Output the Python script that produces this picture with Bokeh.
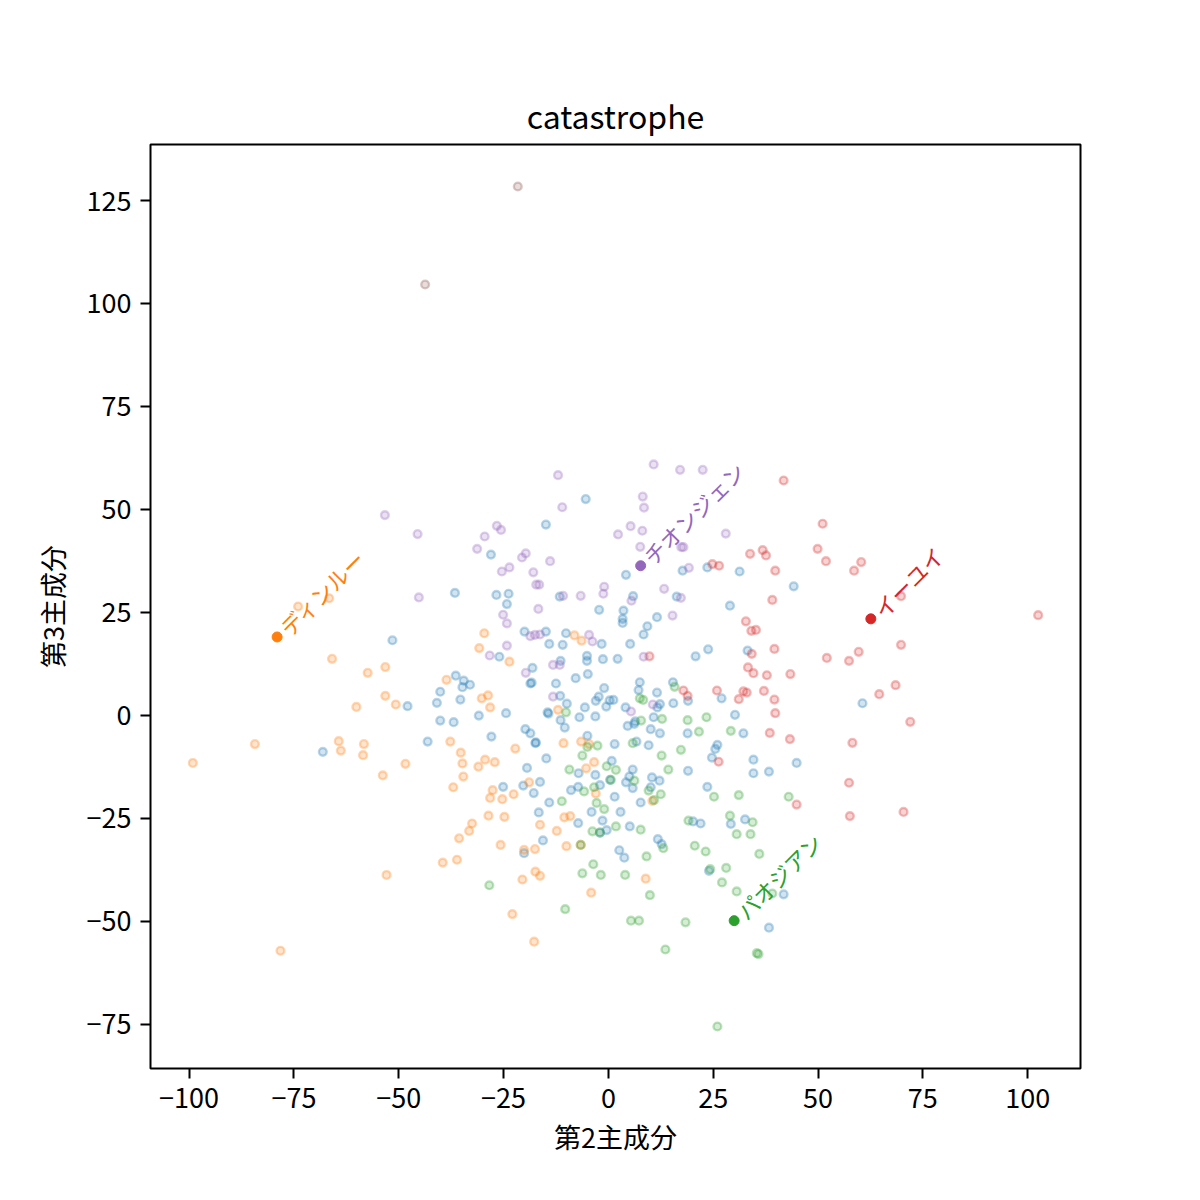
import math
from bokeh.plotting import figure
from bokeh.models import Range1d, FixedTicker
from bokeh.core.properties import value
from bokeh.embed import file_html
from bokeh.resources import INLINE

FONT = "Noto Sans CJK JP"

title_text = "catastrophe"
x_label = "第2主成分"
y_label = "第3主成分"
x_ticks = [-100, -75, -50, -25, 0, 25, 50, 75, 100]
y_ticks = [-75, -50, -25, 0, 25, 50, 75, 100, 125]

blue_pts = [
    (-36.6, 29.7), (-51.5, 18.2), (-36.4, 9.6), (-34.5, 8.4), (-33.0, 7.4), (-34.8, 6.8),
    (-40.1, 5.7), (-40.9, 3.0), (-35.3, 3.8), (-47.9, 2.2), (-30.9, -0.1), (-24.4, 0.5),
    (-40.1, -1.3), (-36.9, -1.7), (-27.9, -5.2), (-43.1, -6.4), (-19.8, -3.4), (-18.6, -4.4),
    (-17.3, -6.6), (-14.5, 0.7), (-18.1, 11.5), (-18.6, 7.7), (-18.3, 7.9), (-68.1, -8.9),
    (-5.4, 52.5), (-14.9, 46.3), (-28.0, 39.0), (4.2, 34.1), (17.7, 35.1), (23.6, 35.9),
    (31.3, 34.9), (-26.7, 29.2), (-23.8, 29.5), (-24.2, 27.0), (-11.6, 28.8), (5.9, 28.9),
    (16.3, 28.8), (29.0, 26.6), (-2.2, 25.6), (3.6, 25.4), (3.4, 23.4), (3.4, 22.4),
    (11.6, 23.8), (9.3, 21.6), (8.4, 19.6), (5.2, 17.3), (33.2, 15.7), (23.8, 16.0),
    (20.8, 14.3), (-26.0, 14.2), (-20.0, 20.3), (-14.9, 20.3), (-14.1, 17.3), (-10.9, 17.1),
    (-10.1, 19.9), (-1.6, 17.3), (-5.1, 14.4), (-5.1, 13.2), (-1.3, 13.6), (2.2, 13.7),
    (-11.4, 13.2), (-12.5, 7.7), (-7.8, 9.0), (-4.9, 10.0), (-11.5, 4.7), (-9.9, 2.8),
    (-14.3, 0.4), (-11.4, -1.2), (-10.4, -3.0), (-6.9, -0.5), (-5.6, 1.9), (-3.1, -0.3),
    (-3.0, 3.5), (-2.3, 4.5), (-1.0, 6.6), (0.3, 3.6), (1.2, 3.7), (-0.5, 2.1),
    (4.1, 1.9), (7.5, 8.0), (7.2, 6.1), (11.6, 5.5), (11.7, 1.9), (12.3, 2.7),
    (15.4, 8.0), (19.0, 3.5), (15.5, 2.9), (27.0, 4.1), (30.2, 0.1), (32.2, -4.4),
    (18.9, -4.4), (12.3, -4.4), (10.1, -3.4), (10.8, -0.5), (6.4, -1.5), (6.2, -2.1),
    (4.6, -2.6), (-5.0, -5.0), (60.6, 2.9), (44.2, 31.3),
    (-17.4, -6.8), (1.5, -7.0), (6.7, -6.4), (9.6, -7.3), (26.0, -7.2), (25.5, -8.2),
    (24.7, -10.3), (34.6, -10.8), (34.6, -14.1), (38.3, -13.7), (-19.4, -12.8), (-14.8, -10.5),
    (-7.1, -14.1), (-3.1, -14.5), (0.8, -11.1), (0.4, -15.7), (5.8, -13.2), (5.0, -14.9),
    (4.2, -16.3), (5.8, -17.7), (10.4, -15.1), (12.2, -15.9), (10.1, -17.5), (7.7, -21.2),
    (19.0, -13.5), (-25.1, -17.4), (-20.3, -17.1), (-16.3, -16.2), (-17.8, -18.9), (-14.1, -21.2),
    (-16.6, -23.6), (-8.9, -18.2), (-7.2, -17.4), (-2.0, -17.0), (1.5, -19.8), (-4.0, -23.5),
    (2.9, -23.5), (-7.2, -26.2), (-15.6, -30.4), (-20.1, -33.5), (-2.0, -28.5), (-0.4, -27.9),
    (-1.4, -25.6), (5.1, -27.0), (11.8, -30.1), (12.7, -31.3), (2.6, -32.8), (3.8, -34.6),
    (20.2, -25.8), (22.0, -26.3), (24.0, -37.8), (23.6, -17.4), (29.2, -26.4), (32.6, -25.3),
    (38.3, -51.6), (44.9, -11.6), (41.8, -43.5),
]

orange_pts = [
    (-74.0, 26.4), (-66.6, 28.4), (-65.9, 13.7), (-57.4, 10.3), (-53.2, 11.7), (-38.6, 8.6),
    (-53.2, 4.7), (-50.7, 2.6), (-60.1, 2.0), (-64.3, -6.3), (-84.3, -7.0), (-37.7, -6.4),
    (-58.3, -7.0), (-63.8, -8.6), (-58.5, -9.7), (-99.1, -11.6), (-35.2, -9.1), (-48.4, -11.8),
    (-34.8, -11.7), (-53.8, -14.6), (-37.0, -17.5), (-34.6, -14.9), (-35.6, -29.9), (-39.5, -35.8),
    (-36.1, -35.1), (-52.9, -38.8), (-78.2, -57.2),
    (-29.6, 19.9), (-30.8, 16.3), (-23.6, 13.0), (-8.1, 19.4), (-6.4, 18.1), (-30.2, 4.1),
    (-28.7, 4.8), (-28.2, 1.9), (-12.0, 1.3),
    (-22.2, -8.1), (-10.7, -6.8), (-6.5, -6.4), (-4.6, -7.0), (-31.0, -12.5), (-29.4, -10.8),
    (-27.1, -11.4), (-5.3, -12.9), (-3.4, -11.4), (-27.6, -18.2), (-28.2, -20.1), (-25.3, -20.4),
    (-22.6, -19.2), (-18.9, -16.3), (-3.0, -19.0), (10.5, -20.8), (-28.6, -24.4), (-24.8, -24.7),
    (-32.5, -26.3), (-33.2, -28.1), (-16.3, -26.6), (-12.3, -28.1), (-10.5, -24.8), (-9.1, -24.5),
    (-25.7, -31.5), (-20.1, -32.7), (-17.5, -32.5), (-10.0, -31.8), (-6.6, -31.5), (-17.4, -38.0),
    (-16.3, -39.0), (-20.5, -39.9), (8.9, -39.7), (-4.1, -43.1), (-22.9, -48.3), (-17.7, -55.0),
]

green_pts = [
    (-10.1, 0.7), (7.5, 4.1), (8.3, 3.7), (15.8, 6.9), (18.9, -1.2), (23.4, -0.5),
    (21.6, -4.0), (29.2, -3.8), (12.8, -0.9), (7.8, -1.3),
    (-5.0, -7.7), (-2.6, -7.4), (5.8, -6.8), (17.3, -8.4), (12.7, -9.8), (-6.2, -9.8),
    (-9.3, -13.2), (-0.4, -12.4), (1.8, -13.3), (0.6, -15.7), (6.2, -15.9), (9.6, -18.3),
    (12.5, -19.2), (10.9, -20.6), (14.3, -13.2), (-11.1, -20.9), (-5.8, -18.5), (-3.4, -17.5),
    (-2.8, -21.3), (-1.0, -22.8), (-6.6, -31.5), (-3.8, -28.2), (-2.0, -28.5), (1.8, -27.0),
    (7.7, -27.8), (13.1, -32.3), (9.1, -34.3), (-28.4, -41.3), (-3.6, -36.2), (-6.2, -38.4),
    (-1.8, -38.8), (4.0, -38.8), (9.9, -43.7), (-10.3, -47.1), (5.4, -49.9), (7.3, -49.9),
    (13.6, -56.9), (18.4, -50.3), (35.4, -57.8), (35.8, -58.0), (26.0, -75.6), (19.1, -25.6),
    (20.6, -31.7), (23.2, -33.1), (24.3, -37.4), (28.1, -37.1), (27.1, -40.6), (30.6, -42.8),
    (25.2, -19.8), (31.1, -19.4), (29.0, -24.4), (34.4, -26.0), (30.6, -28.9), (33.9, -28.9),
    (36.0, -33.7), (43.0, -19.8), (39.1, -43.3),
]

red_pts = [
    (24.8, 36.7), (26.4, 36.3), (33.8, 39.2), (36.8, 40.1), (37.6, 38.8), (32.8, 22.8),
    (34.1, 20.5), (35.2, 20.7), (34.2, 14.9), (9.8, 14.3), (17.9, 6.0), (18.9, 4.7),
    (25.9, 6.0), (31.1, 3.9), (32.2, 5.8), (33.0, 5.5), (37.1, 5.9), (38.5, -4.3),
    (26.3, -11.3), (33.3, 11.6), (34.6, 10.2), (37.8, 9.7),
    (41.8, 57.0), (51.1, 46.5), (49.9, 40.4), (51.9, 37.4), (60.3, 37.2), (58.6, 35.1),
    (39.8, 35.1), (39.1, 28.0), (69.8, 28.9), (102.5, 24.3), (39.6, 16.1), (69.8, 17.1),
    (52.1, 13.9), (57.4, 13.2), (59.7, 15.4), (43.4, 10.0), (39.6, 3.8), (39.8, 0.5),
    (43.3, -5.8), (58.2, -6.7), (64.6, 5.1), (68.5, 7.3), (72.0, -1.6), (57.4, -16.4),
    (44.9, -21.7), (57.6, -24.5), (70.4, -23.5),
]

purple_pts = [
    (-53.3, 48.6), (-45.5, 44.0), (-45.2, 28.6), (10.8, 60.9), (17.1, 59.6), (22.5, 59.6),
    (-12.0, 58.3), (8.2, 53.1), (8.5, 50.4), (-11.0, 50.5), (-26.6, 46.0), (-25.6, 45.0),
    (-29.5, 43.4), (-31.3, 40.4), (2.3, 43.9), (5.3, 45.9), (8.1, 44.8), (7.6, 40.9),
    (28.0, 44.1), (17.4, 40.8), (17.9, 40.8), (-20.6, 38.3), (-19.7, 39.3), (-13.9, 37.4),
    (-25.4, 34.9), (-23.6, 35.9), (-17.9, 34.7), (19.2, 35.8), (-17.2, 31.7), (-16.5, 31.7),
    (-1.0, 31.2), (-1.2, 29.5), (-10.8, 29.0), (-6.6, 29.0), (5.5, 27.8), (13.3, 30.7),
    (17.3, 28.5), (-16.7, 25.8), (-25.1, 24.4), (-24.2, 22.3), (15.3, 24.2), (8.4, 14.2),
    (-28.3, 14.5), (-24.2, 16.9), (-18.6, 19.2), (-17.5, 19.5), (-16.3, 19.6), (-4.6, 19.5),
    (-3.8, 17.9), (-13.2, 12.2), (-11.6, 12.2), (-19.7, 10.3), (-13.2, 4.5), (5.4, 0.9),
    (10.6, 2.6),
]

brown_pts = [(-21.6, 128.4), (-43.7, 104.6)]

highlight_names = ["ディンルー", "チオンジェン", "イーユイ", "パオジアン"]
highlight_x = [-79.0, 7.7, 62.6, 30.0]
highlight_y = [19.0, 36.3, 23.4, -49.9]
highlight_colors = ["#ff7f0e", "#9467bd", "#d62728", "#2ca02c"]

groups = [
    (blue_pts, "#1f77b4"),
    (orange_pts, "#ff7f0e"),
    (green_pts, "#2ca02c"),
    (red_pts, "#d62728"),
    (purple_pts, "#9467bd"),
    (brown_pts, "#8c564b"),
]

p = figure(
    frame_width=930, frame_height=924,
    min_border_left=150, min_border_right=100,
    min_border_top=144, min_border_bottom=100,
    x_range=Range1d(-109.2, 112.6), y_range=Range1d(-85.8, 138.6),
    output_backend="svg", toolbar_location=None,
    background_fill_color="white", border_fill_color="white",
)

p.title.text = title_text
p.title.align = "center"
p.title.text_font = FONT
p.title.text_font_size = "32px"
p.title.text_font_style = "normal"
p.title.text_color = "black"
p.title.standoff = 13

p.xgrid.visible = False
p.ygrid.visible = False
p.outline_line_color = "black"
p.outline_line_width = 2
p.outline_line_alpha = 1.0

def minus(t):
    return "\u2212" + str(abs(t)) if t < 0 else str(t)

for ax, ticks, lab, stand in ((p.xaxis[0], x_ticks, x_label, 6), (p.yaxis[0], y_ticks, y_label, 12)):
    ax.ticker = FixedTicker(ticks=ticks)
    ax.major_label_overrides = {t: minus(t) for t in ticks}
    ax.axis_label = lab
    ax.axis_label_text_font = FONT
    ax.axis_label_text_font_size = "27px"
    ax.axis_label_text_font_style = "normal"
    ax.axis_label_text_color = "black"
    ax.axis_label_standoff = stand
    ax.major_label_text_font = FONT
    ax.major_label_text_font_size = "27px"
    ax.major_label_text_color = "black"
    ax.major_label_standoff = 9
    ax.major_tick_in = 0
    ax.major_tick_out = 10
    ax.major_tick_line_width = 2
    ax.major_tick_line_color = "black"
    ax.minor_tick_line_color = None
    ax.axis_line_color = None

for pts, col in groups:
    xs = [a for a, b in pts]
    ys = [b for a, b in pts]
    p.scatter(xs, ys, size=7.8, fill_color=col, fill_alpha=0.2,
              line_color=col, line_alpha=0.3, line_width=2.4)

p.scatter(highlight_x, highlight_y, size=10, fill_color=highlight_colors,
          line_color=highlight_colors, line_width=1)
p.text(highlight_x, highlight_y, text=highlight_names, angle=math.pi / 4,
       text_align="left", text_baseline="middle", text_color=highlight_colors,
       text_font=value(FONT), text_font_size="22px", x_offset=6, y_offset=-6)

open("out.html", "w").write(file_html(p, INLINE))
